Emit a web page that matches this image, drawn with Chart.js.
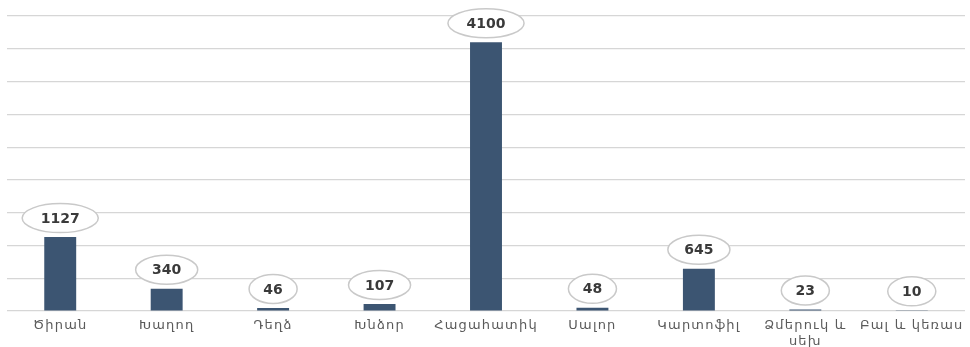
<!DOCTYPE html>
<html>
<head>
<meta charset="utf-8">
<script src="https://cdn.jsdelivr.net/npm/chart.js@4/dist/chart.umd.min.js"></script>
<style>
html,body{margin:0;padding:0;background:#fff;}
#wrap{width:970px;height:347px;position:relative;}
</style>
</head>
<body>
<div id="wrap"><canvas id="c" width="970" height="347"></canvas></div>
<script>
const categories = ["Ծիրան", "Խաղող", "Դեղձ", "Խնձոր", "Հացահատիկ", "Սալոր", "Կարտոֆիլ", ["Ձմերուկ և", "սեխ"], "Բալ և կեռաս"];
const values = [1127, 340, 46, 107, 4100, 48, 645, 23, 10];
const yMax = 4500;
const yStep = 500;

const bubbleLabels = {
  id: 'bubbleLabels',
  afterDatasetsDraw(chart) {
    const ctx = chart.ctx;
    const meta = chart.getDatasetMeta(0);
    ctx.save();
    ctx.letterSpacing = '0px';
    ctx.font = 'bold 14px "DejaVu Sans"';
    ctx.textAlign = 'center';
    ctx.textBaseline = 'middle';
    meta.data.forEach((bar, i) => {
      const txt = String(values[i]);
      const w = ctx.measureText(txt).width;
      const cx = bar.x, cy = bar.y - 19;
      const rx = 0.72 * w + 10, ry = 14.5;
      ctx.beginPath();
      ctx.ellipse(cx, cy, rx, ry, 0, 0, Math.PI * 2);
      ctx.fillStyle = '#ffffff';
      ctx.fill();
      ctx.lineWidth = 1.5;
      ctx.strokeStyle = '#c9c9c9';
      ctx.stroke();
      ctx.fillStyle = '#3a3a3a';
      ctx.fillText(txt, cx, cy + 1);
    });
    ctx.restore();
  }
};

const spacing = {
  id: 'spacing',
  beforeDraw(chart) { chart.ctx.letterSpacing = '1.2px'; },
  afterDraw(chart) { chart.ctx.letterSpacing = '0px'; }
};

new Chart(document.getElementById('c'), {
  type: 'bar',
  data: {
    labels: categories,
    datasets: [{
      data: values,
      backgroundColor: '#3c5572',
      barPercentage: 0.6,
      categoryPercentage: 0.5
    }]
  },
  options: {
    responsive: false,
    animation: false,
    events: [],
    layout: { padding: { left: 7, right: 5, top: 16, bottom: 0 } },
    plugins: { legend: { display: false }, tooltip: { enabled: false } },
    scales: {
      x: {
        grid: { display: false, drawTicks: false },
        border: { display: false },
        ticks: {
          autoSkip: false,
          maxRotation: 0,
          padding: 7,
          color: '#5a5a5a',
          font: { family: '"DejaVu Sans"', size: 13, lineHeight: 1.2 }
        },
        afterFit(s) { s.height = 36; }
      },
      y: {
        min: 0,
        max: yMax,
        ticks: { display: false, stepSize: yStep },
        grid: { color: '#d6d6d6', lineWidth: 1.2, drawTicks: false },
        border: { display: false }
      }
    }
  },
  plugins: [spacing, bubbleLabels]
});
</script>
</body>
</html>
